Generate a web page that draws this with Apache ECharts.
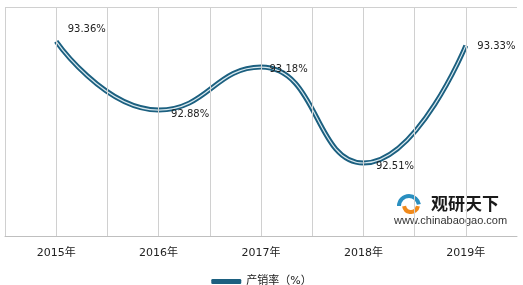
<!DOCTYPE html>
<html><head><meta charset="utf-8">
<script src="https://cdn.jsdelivr.net/npm/echarts@6/dist/echarts.min.js"></script>
<style>html,body{margin:0;padding:0;background:#fff}#c{width:523px;height:285px}</style>
</head><body><div id="c"></div>
<script>
var categories = ['2015年','2016年','2017年','2018年','2019年'];
var values = [93.36, 92.88, 93.18, 92.51, 93.33];
var seriesName = '产销率（%）';
var halfTicks = ['a','b','c','d','e','f','g','h','i','j','k'];
var gridLineTicks = ['a','b','c','d','e','f','g','h','i','j'];
var labelOffsets = [[6,-12],[7,4],[3,2],[7,3],[6,1]];
var yMin = 92, yMax = 93.6;

var FONT = 'DejaVu Sans, Noto Sans CJK SC, sans-serif';
var GRIDC = '#d0d0d0';
var chart = echarts.init(document.getElementById('c'), null, {renderer:'canvas'});
var labelData = values.map(function(v,i){
  return {value:v, label:{show:true, position:'right', offset:labelOffsets[i],
    formatter: v.toFixed(2)+'%', color:'#222', fontSize:10, fontFamily:FONT}};
});
chart.setOption({
  animation:false,
  grid:{show:false, left:5, right:6, top:7, bottom:49, borderWidth:0},
  legend:{data:[seriesName], top:271, left:'center', icon:'roundRect', itemWidth:30, itemHeight:5, itemGap:3,
    textStyle:{color:'#222', fontSize:11, fontFamily:FONT}},
  xAxis:[{
    type:'category', data:categories, boundaryGap:true,
    axisLine:{show:true, lineStyle:{color:'#bfbfbf', width:1}},
    axisTick:{show:false},
    axisLabel:{color:'#222', fontSize:11, fontFamily:FONT, margin:12},
    splitLine:{show:false}
  },{
    type:'category', data:halfTicks, boundaryGap:false, position:'top',
    axisLine:{show:false}, axisTick:{show:false}, axisLabel:{show:false},
    splitLine:{show:false}
  }],
  yAxis:{type:'value', min:yMin, max:yMax,
    axisLine:{show:false}, axisTick:{show:false}, axisLabel:{show:false},
    splitLine:{show:false}},
  series:[{
    name:'grid', type:'line', xAxisIndex:1, data:[], silent:true,
    markLine:{silent:true, symbol:['none','none'], label:{show:false},
      lineStyle:{color:GRIDC, width:1, type:'solid'},
      data:gridLineTicks.map(function(t){return {xAxis:t};})}
  },{
    name:seriesName, type:'line', data:values, smooth:0.5, symbol:'none',
    lineStyle:{color:'#1c6080', width:5}, itemStyle:{color:'#1c6080'}, z:3,
    markLine:{silent:true, symbol:['none','none'], label:{show:false},
      lineStyle:{color:GRIDC, width:1, type:'solid'},
      data:[{yAxis:yMax}]}
  },{
    name:seriesName, type:'line', data:labelData, smooth:0.5, symbol:'circle', symbolSize:1, showSymbol:true,
    lineStyle:{color:'#d8e8ee', width:1.2}, itemStyle:{color:'rgba(0,0,0,0)'}, z:4
  }],
  graphic:[
    {type:'arc', shape:{cx:409, cy:206, r:10, startAngle:Math.PI*1.0, endAngle:Math.PI*1.95}, style:{stroke:'#2a8fc0', lineWidth:4, fill:null}},
    {type:'arc', shape:{cx:411, cy:205, r:7, startAngle:Math.PI*0.05, endAngle:Math.PI*0.95}, style:{stroke:'#f08a1c', lineWidth:4, fill:null}},
    {type:'text', left:431, top:195, style:{text:'观研天下', fill:'#1a1a1a', font:'bold 17px "Noto Sans CJK SC", sans-serif'}},
    {type:'text', left:394, top:215, style:{text:'www.chinabaogao.com', fill:'#333', font:'11px "Liberation Sans", sans-serif'}}
  ]
});
</script></body></html>
